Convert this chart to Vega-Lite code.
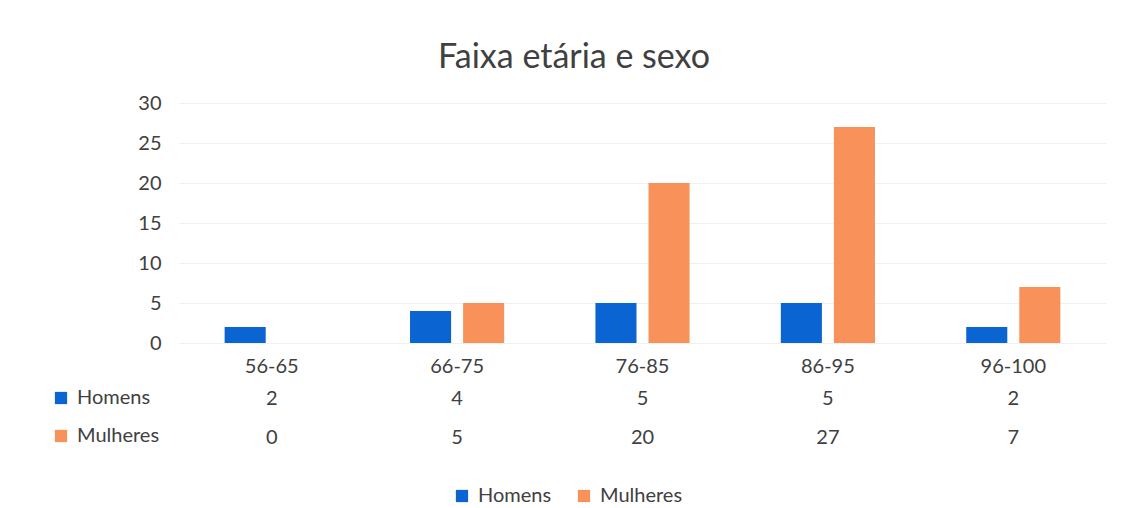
{
  "$schema": "https://vega.github.io/schema/vega-lite/v6.json",
  "background": "white",
  "padding": {"left": 42, "top": 41, "right": 20, "bottom": 0},
  "config": {
    "font": "Lato",
    "view": {"stroke": null},
    "axis": {"labelColor": "#404040", "labelFont": "Lato", "labelFontSize": 20, "domain": false, "ticks": false, "title": null},
    "legend": {"labelColor": "#404040", "labelFont": "Lato", "labelFontSize": 20, "symbolType": "square", "symbolSize": 150, "title": null, "symbolStrokeWidth": 0}
  },
  "title": {"text": "Faixa etária e sexo", "fontSize": 34, "fontWeight": "normal", "color": "#404040", "font": "Lato", "anchor": "middle", "offset": 18},
  "datasets": {
    "d": [
      {"faixa": "56-65", "sexo": "Homens", "valor": 2},
      {"faixa": "56-65", "sexo": "Mulheres", "valor": 0},
      {"faixa": "66-75", "sexo": "Homens", "valor": 4},
      {"faixa": "66-75", "sexo": "Mulheres", "valor": 5},
      {"faixa": "76-85", "sexo": "Homens", "valor": 5},
      {"faixa": "76-85", "sexo": "Mulheres", "valor": 20},
      {"faixa": "86-95", "sexo": "Homens", "valor": 5},
      {"faixa": "86-95", "sexo": "Mulheres", "valor": 27},
      {"faixa": "96-100", "sexo": "Homens", "valor": 2},
      {"faixa": "96-100", "sexo": "Mulheres", "valor": 7}
    ]
  },
  "data": {"name": "d"},
  "spacing": 3,
  "resolve": {"legend": {"color": "independent"}},
  "vconcat": [
    {
      "width": 927,
      "height": 240,
      "mark": {"type": "bar"},
      "encoding": {
        "x": {"field": "faixa", "type": "nominal", "sort": null, "scale": {"paddingInner": 0, "paddingOuter": 0}, "axis": {"labelAngle": 0, "labelPadding": 13, "grid": false}},
        "xOffset": {"field": "sexo", "type": "nominal", "scale": {"paddingInner": 0.226, "paddingOuter": 0.86}},
        "y": {"field": "valor", "type": "quantitative", "scale": {"domain": [0, 30]}, "axis": {"values": [0, 5, 10, 15, 20, 25, 30], "labelPadding": 18, "grid": true, "gridColor": "#f0f0f0"}},
        "color": {"field": "sexo", "type": "nominal", "scale": {"domain": ["Homens", "Mulheres"], "range": ["#0a64d2", "#f8925a"]}, "legend": null}
      }
    },
    {
      "width": 927,
      "height": 78,
      "layer": [
        {
          "mark": {"type": "text", "fontSize": 20, "color": "#404040", "font": "Lato"},
          "encoding": {
            "x": {"field": "faixa", "type": "nominal", "sort": null, "scale": {"paddingInner": 0, "paddingOuter": 0}, "axis": null},
            "y": {"field": "sexo", "type": "nominal", "sort": ["Homens", "Mulheres"], "axis": null},
            "text": {"field": "valor", "type": "quantitative"}
          }
        },
        {
          "mark": {"type": "square", "opacity": 0},
          "encoding": {
            "x": {"field": "faixa", "type": "nominal", "sort": null},
            "y": {"field": "sexo", "type": "nominal", "sort": ["Homens", "Mulheres"]},
            "color": {"field": "sexo", "type": "nominal", "legend": {"orient": "left", "offset": 10, "padding": 9, "rowPadding": 18, "symbolOpacity": 1, "labelOffset": 6}}
          }
        },
        {
          "mark": {"type": "square", "opacity": 0},
          "encoding": {
            "x": {"field": "faixa", "type": "nominal", "sort": null},
            "y": {"field": "sexo", "type": "nominal", "sort": ["Homens", "Mulheres"]},
            "fill": {"field": "sexo", "type": "nominal", "scale": {"domain": ["Homens", "Mulheres"], "range": ["#0a64d2", "#f8925a"]}, "legend": {"orient": "none", "direction": "horizontal", "legendX": 273, "legendY": 383, "symbolOpacity": 1, "columnPadding": 22, "labelOffset": 6}}
          }
        }
      ]
    }
  ]
}
